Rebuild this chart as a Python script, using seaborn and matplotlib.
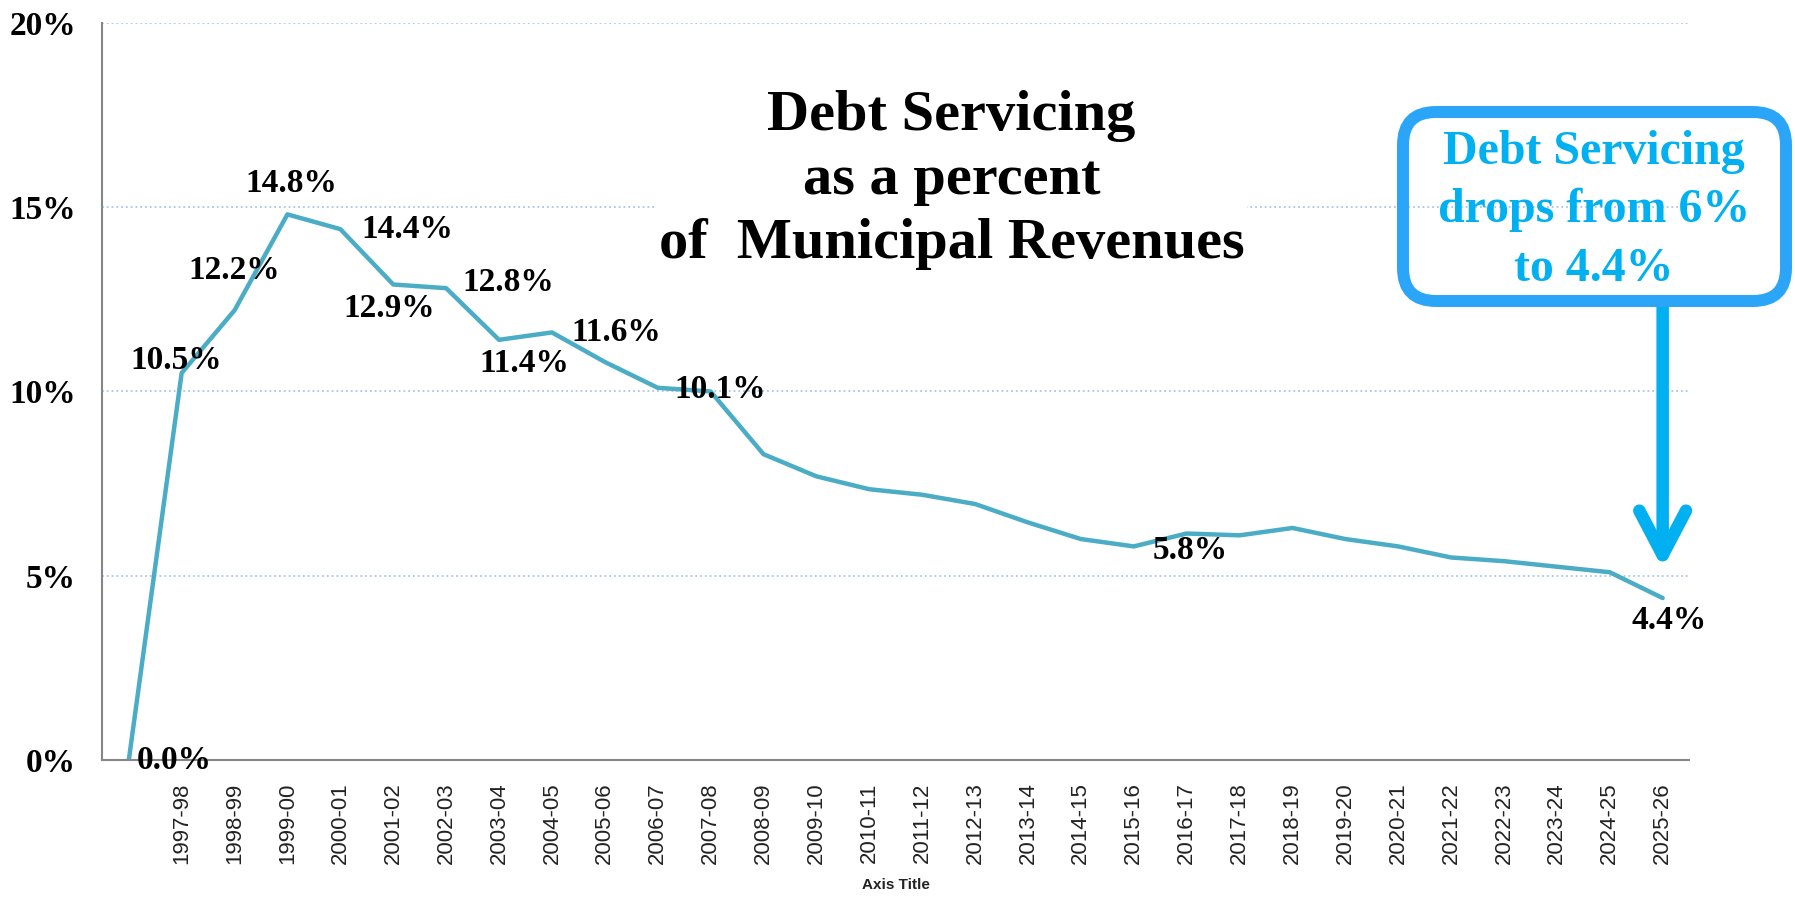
import numpy as np
import pandas as pd
import matplotlib
matplotlib.use("Agg")
import matplotlib.pyplot as plt
import seaborn as sns
from matplotlib.patches import FancyBboxPatch

# fiscal years (first slot is the blank start point)
years = ["", "1997-98", "1998-99", "1999-00", "2000-01", "2001-02", "2002-03",
         "2003-04", "2004-05", "2005-06", "2006-07", "2007-08", "2008-09",
         "2009-10", "2010-11", "2011-12", "2012-13", "2013-14", "2014-15",
         "2015-16", "2016-17", "2017-18", "2018-19", "2019-20", "2020-21",
         "2021-22", "2022-23", "2023-24", "2024-25", "2025-26"]
debt_pct = [0.0, 10.5, 12.2, 14.8, 14.4, 12.9, 12.8, 11.4, 11.6, 10.8, 10.1,
            10.0, 8.3, 7.7, 7.35, 7.2, 6.95, 6.45, 6.0, 5.8, 6.15, 6.1, 6.3,
            6.0, 5.8, 5.5, 5.4, 5.25, 5.1, 4.4]
y_ticks = [0, 5, 10, 15, 20]

# which points get a value label, and where the label sits (points offset)
label_idx = [0, 1, 2, 3, 4, 5, 6, 7, 8, 10, 19, 29]
label_dx = [33, -4, 0, 3, 48, -3, 45, 18, 46, 45, 41, 5]
label_dy = [0, 9, 29, 22, 0, -17, 4, -17, 0, -1, -3, -16]

LINE_COLOR = "#4BACC6"
AXIS_COLOR = "#868686"
CALLOUT_TEXT = "#00B0F0"
CALLOUT_EDGE = "#2AA5F8"

df = pd.DataFrame({"pos": np.arange(len(years)), "year": years, "pct": debt_pct})

sns.set_style("white")
plt.rcParams["font.family"] = ["Liberation Serif", "DejaVu Serif"]
plt.rcParams["text.color"] = "black"

fig = plt.figure(figsize=(17.95, 9.02), dpi=100)
ax = fig.add_axes([0.057, 0.157, 0.884, 0.818])

sns.lineplot(data=df, x="pos", y="pct", color=LINE_COLOR, linewidth=3.2, ax=ax)

for i, dx, dy in zip(label_idx, label_dx, label_dy):
    ax.annotate(f"{debt_pct[i]:.1f}%", xy=(df["pos"][i], debt_pct[i]),
                xytext=(dx, dy), textcoords="offset points", ha="center", va="center",
                fontsize=24, fontweight="bold", color="black", annotation_clip=False)

ax.set_xlim(-0.5, len(years) - 0.5)
ax.set_ylim(0, 20)
ax.set_xticks(np.arange(-0.5, len(years), 1))
ax.set_xticklabels([])
ax.set_xticks(np.arange(len(years)), minor=True)
ax.set_xticklabels(years, minor=True, rotation=90, family="Liberation Sans", fontsize=16)
ax.tick_params(axis="x", which="major", length=6, width=1.5, color=AXIS_COLOR)
ax.tick_params(axis="x", which="minor", length=0, pad=16, labelcolor="#222222")

ax.set_yticks(y_ticks)
ax.set_yticklabels([f"{v}%" for v in y_ticks], fontsize=24, fontweight="bold")
ax.tick_params(axis="y", length=7, width=1.5, color=AXIS_COLOR, pad=12, labelcolor="black")

ax.yaxis.grid(True, color="#aac6ec", linestyle=":", linewidth=1.3)
ax.xaxis.grid(False)
for s in ["top", "right"]:
    ax.spines[s].set_visible(False)
for s in ["left", "bottom"]:
    ax.spines[s].set_color(AXIS_COLOR)
    ax.spines[s].set_linewidth(1.5)

ax.set_ylabel("")
ax.set_xlabel("Axis Title", family="Liberation Sans", fontsize=11, fontweight="bold",
              labelpad=10, color="#222222")

# chart title with white backing (hides the gridline behind it)
fig.text(0.530, 0.800, "Debt Servicing\nas a percent\nof  Municipal Revenues",
         ha="center", va="center", fontsize=42, fontweight="bold", linespacing=1.3,
         color="black", bbox=dict(fc="white", ec="none", pad=2))

# callout box + arrow
box = FancyBboxPatch((14.03, 6.01), 3.83, 1.89, boxstyle="round,pad=0,rounding_size=0.33",
                     transform=fig.dpi_scale_trans, fc="none", ec=CALLOUT_EDGE, lw=8.6)
fig.add_artist(box)
fig.text(0.888, 0.767, "Debt Servicing\ndrops from 6%\nto 4.4%", ha="center", va="center",
         fontsize=34.5, fontweight="bold", color=CALLOUT_TEXT, linespacing=1.42)

ax.annotate("", xy=(29, 5.2), xytext=(29, 12.29),
            arrowprops=dict(arrowstyle="->,head_length=2.0,head_width=1.05", color=CALLOUT_TEXT,
                            lw=9, shrinkA=0, shrinkB=0, mutation_scale=16),
            annotation_clip=False)

fig.savefig("out.png", dpi=100)
